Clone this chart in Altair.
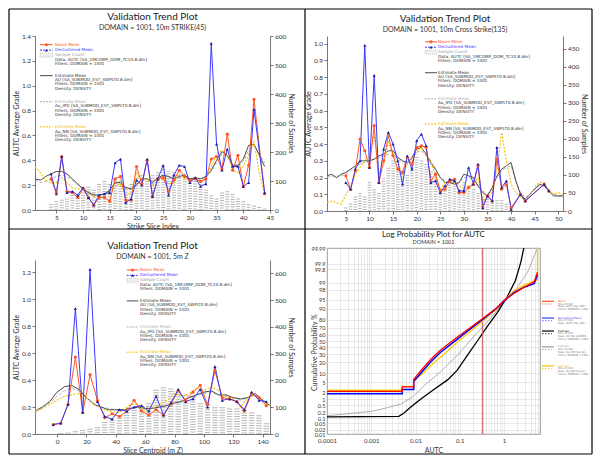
import altair as alt
import pandas as pd
from statistics import NormalDist

FONT = "Lato"
LEG_FONT = "DejaVu Sans"
INK = "#333333"
RED = "#ff5522"
BLUE = "#3a3aff"
NAVY = "#1e1e90"
EST_C = "#4a4a4a"
IPD_C = "#aaaaaa"
NN_C = "#f2c000"

# ---------------- 10m STRIKE(45) ----------------
strike_idx = [4, 5, 6, 7, 8, 9, 10, 11, 12, 13, 14, 15, 16, 17, 18, 19, 20, 21, 22, 23,
              24, 25, 26, 27, 28, 29, 30, 31, 32, 33, 34, 35, 36, 37, 38, 39, 40, 41, 42, 44]
strike_naive = [0.25, 0.14, 0.43, 0.15, 0.14, 0.10, 0.17, 0.10, 0.04, 0.10,
                0.10, 0.07, 0.25, 0.27, 0.08, 0.08, 0.35, 0.21, 0.40, 0.11,
                0.25, 0.26, 0.15, 0.24, 0.32, 0.27, 0.24, 0.25, 0.23, 0.25,
                0.41, 0.43, 0.33, 0.61, 0.32, 0.44, 0.19, 0.36, 0.89, 0.13]
strike_declus = [0.29, 0.13, 0.43, 0.14, 0.15, 0.12, 0.18, 0.10, 0.04, 0.12,
                 0.13, 0.14, 0.38, 0.41, 0.06, 0.09, 0.24, 0.20, 0.41, 0.11,
                 0.25, 0.36, 0.12, 0.28, 0.36, 0.35, 0.22, 0.26, 0.19, 0.21,
                 1.34, 0.53, 0.32, 0.49, 0.35, 0.35, 0.19, 0.22, 0.81, 0.14]
strike_count_idx = [4, 5, 6, 7, 8, 9, 10, 11, 12, 13, 14, 15, 16, 17, 18, 19, 20, 21, 22, 23, 24,
                    25, 26, 27, 28, 29, 30, 31, 32, 33, 34, 35, 36, 37, 38, 39, 40, 41, 42, 43, 44]
strike_count = [20, 30, 35, 40, 60, 50, 60, 80, 70, 90, 100, 90, 110, 100, 80, 90, 110, 120, 100, 120, 130,
                140, 135, 130, 120, 125, 110, 100, 90, 70, 50, 40, 60, 65, 55, 40, 30, 20, 15, 10, 5]
strike_est_idx = [1, 2, 3, 4, 5, 6, 7, 8, 9, 10, 11, 12, 13, 14, 15, 16, 17, 18, 19, 20, 21, 22,
                  23, 24, 25, 26, 27, 28, 29, 30, 31, 32, 33, 34, 35, 36, 37, 38, 39, 40, 41, 42, 43, 44]
strike_est = [0.25, 0.24, 0.27, 0.29, 0.31, 0.31, 0.29, 0.25, 0.21, 0.17,
              0.14, 0.12, 0.12, 0.13, 0.16, 0.22, 0.22, 0.18, 0.17, 0.20,
              0.25, 0.25, 0.22, 0.26, 0.28, 0.27, 0.25, 0.27, 0.28, 0.25,
              0.26, 0.25, 0.27, 0.32, 0.40, 0.47, 0.44, 0.36, 0.36, 0.41,
              0.52, 0.53, 0.44, 0.35]
strike_ipd = [0.24, 0.22, 0.23, 0.25, 0.27, 0.28, 0.27, 0.24, 0.20, 0.17,
              0.15, 0.13, 0.12, 0.13, 0.15, 0.19, 0.20, 0.17, 0.17, 0.21,
              0.24, 0.25, 0.23, 0.25, 0.27, 0.26, 0.25, 0.26, 0.27, 0.25,
              0.25, 0.24, 0.26, 0.31, 0.38, 0.45, 0.44, 0.37, 0.35, 0.39,
              0.48, 0.52, 0.45, 0.38]
strike_nn = [0.35, 0.30, 0.24, 0.22, 0.22, 0.26, 0.22, 0.18, 0.17, 0.16,
             0.13, 0.11, 0.11, 0.12, 0.15, 0.20, 0.21, 0.12, 0.14, 0.30,
             0.23, 0.25, 0.20, 0.24, 0.25, 0.21, 0.22, 0.29, 0.25, 0.24,
             0.25, 0.22, 0.25, 0.35, 0.45, 0.48, 0.45, 0.32, 0.30, 0.35,
             0.45, 0.55, 0.30, 0.12]

# ---------------- 10m Cross Strike(135) ----------------
cross_idx = [5, 6, 7, 8, 9, 10, 11, 12, 13, 14, 15, 16, 17, 18, 19, 20, 21, 22, 23, 24,
             25, 26, 27, 28, 29, 30, 31, 32, 33, 34, 35, 36, 37, 38, 39, 40, 42, 43, 47, 48]
cross_naive = [0.21, 0.13, 0.24, 0.43, 0.36, 0.26, 0.51, 0.17, 0.30, 0.45,
               0.33, 0.25, 0.23, 0.32, 0.28, 0.38, 0.39, 0.38, 0.18, 0.22,
               0.12, 0.13, 0.18, 0.19, 0.11, 0.11, 0.14, 0.16, 0.27, 0.03,
               0.09, 0.06, 0.31, 0.13, 0.16, 0.02, 0.10, 0.06, 0.16, 0.12]
cross_declus = [0.17, 0.13, 0.25, 0.30, 0.99, 0.26, 0.81, 0.17, 0.37, 0.47,
                0.40, 0.30, 0.16, 0.33, 0.25, 0.42, 0.46, 0.39, 0.17, 0.18,
                0.11, 0.15, 0.19, 0.18, 0.12, 0.12, 0.26, 0.16, 0.28, 0.02,
                0.09, 0.06, 0.38, 0.14, 0.18, 0.01, 0.10, 0.06, 0.16, 0.12]
cross_count_idx = [5, 6, 7, 8, 9, 10, 11, 12, 13, 14, 15, 16, 17, 18, 19, 20, 21, 22,
                   23, 24, 25, 26, 27, 28, 29, 30, 31, 32, 33, 34, 35, 36, 37, 38, 39, 40]
cross_count = [10, 20, 40, 50, 40, 80, 60, 50, 90, 120, 140, 130, 110, 100, 120, 150, 140, 130,
               110, 90, 60, 70, 80, 70, 60, 80, 70, 60, 50, 40, 40, 30, 30, 30, 20, 10]
cross_est_idx = [1, 2, 3, 4, 5, 6, 7, 8, 9, 10, 11, 12, 13, 14, 15, 16, 17, 18, 19, 20, 21, 22, 23, 24, 25, 26,
                 27, 28, 29, 30, 31, 32, 33, 34, 35, 36, 37, 38, 39, 40, 41, 42, 43, 44, 45, 46, 47, 48, 49, 50, 51]
cross_est = [0.21, 0.22, 0.20, 0.22, 0.23, 0.25, 0.27, 0.30, 0.30, 0.30,
             0.31, 0.33, 0.34, 0.36, 0.36, 0.32, 0.30, 0.29, 0.32, 0.37,
             0.38, 0.34, 0.29, 0.25, 0.20, 0.17, 0.17, 0.16, 0.17, 0.22,
             0.21, 0.20, 0.15, 0.11, 0.09, 0.14, 0.21, 0.25, 0.27, 0.29,
             0.18, 0.10, 0.07, 0.10, 0.13, 0.16, 0.15, 0.12, 0.09, 0.09, 0.09]
cross_ipd = [0.20, 0.21, 0.20, 0.21, 0.22, 0.24, 0.26, 0.28, 0.29, 0.30,
             0.31, 0.32, 0.33, 0.34, 0.34, 0.31, 0.29, 0.28, 0.31, 0.35,
             0.36, 0.33, 0.28, 0.24, 0.20, 0.18, 0.17, 0.17, 0.17, 0.20,
             0.20, 0.19, 0.15, 0.12, 0.10, 0.14, 0.20, 0.24, 0.26, 0.27,
             0.18, 0.11, 0.08, 0.10, 0.13, 0.15, 0.15, 0.12, 0.10, 0.09, 0.09]
cross_nn = [0.05, 0.06, 0.05, 0.04, 0.10, 0.14, 0.22, 0.26, 0.31, 0.32,
            0.46, 0.22, 0.28, 0.41, 0.34, 0.29, 0.22, 0.28, 0.30, 0.35,
            0.38, 0.33, 0.30, 0.20, 0.13, 0.17, 0.18, 0.17, 0.15, 0.13,
            0.15, 0.16, 0.20, 0.06, 0.08, 0.12, 0.25, 0.47, 0.30, 0.16,
            0.11, 0.09, 0.06, 0.10, 0.14, 0.17, 0.17, 0.12, 0.10, 0.11, 0.10]

# ---------------- 5m Z ----------------
z_cent = [-2.5, 2.5, 7.5, 12.5, 17.5, 22.5, 27.5, 32.5, 37.5, 42.5, 47.5, 52.5, 57.5, 62.5, 67.5,
          72.5, 77.5, 82.5, 87.5, 92.5, 97.5, 102.5, 107.5, 112.5, 117.5, 122.5, 127.5, 132.5, 137.5, 142.5]
z_naive = [0.07, 0.08, 0.22, 0.57, 0.16, 0.44, 0.25, 0.12, 0.15, 0.13,
           0.17, 0.25, 0.17, 0.14, 0.18, 0.14, 0.22, 0.32, 0.25, 0.31,
           0.36, 0.22, 0.47, 0.27, 0.26, 0.24, 0.17, 0.30, 0.27, 0.21]
z_declus = [0.07, 0.08, 0.22, 0.93, 0.16, 1.22, 0.24, 0.13, 0.11, 0.18,
            0.17, 0.20, 0.21, 0.17, 0.28, 0.14, 0.23, 0.33, 0.24, 0.26,
            0.33, 0.20, 0.50, 0.25, 0.26, 0.24, 0.18, 0.31, 0.25, 0.24]
z_count = [0, 3, 5, 10, 15, 20, 25, 45, 55, 70, 80, 90, 105, 115, 165,
           175, 170, 160, 145, 140, 115, 110, 100, 100, 95, 95, 90, 80, 70, 40]
z_est_x = [-15, -10, -5, 0, 5, 10, 15, 20, 25, 30, 35, 40, 45, 50, 55, 60, 65,
           70, 75, 80, 85, 90, 95, 100, 105, 110, 115, 120, 125, 130, 135, 140, 145]
z_est = [0.17, 0.20, 0.24, 0.31, 0.35, 0.36, 0.33, 0.27, 0.22, 0.20,
         0.18, 0.18, 0.18, 0.19, 0.20, 0.19, 0.19, 0.20, 0.21, 0.23,
         0.24, 0.27, 0.29, 0.31, 0.32, 0.29, 0.29, 0.27, 0.26, 0.27,
         0.30, 0.25, 0.21]
z_ipd = [0.16, 0.19, 0.23, 0.28, 0.32, 0.34, 0.32, 0.27, 0.23, 0.20,
         0.19, 0.18, 0.18, 0.19, 0.20, 0.20, 0.20, 0.21, 0.22, 0.24,
         0.25, 0.27, 0.29, 0.30, 0.31, 0.29, 0.28, 0.27, 0.25, 0.27,
         0.29, 0.25, 0.21]
z_nn = [0.17, 0.19, 0.22, 0.25, 0.28, 0.29, 0.30, 0.27, 0.22, 0.19,
        0.17, 0.16, 0.17, 0.22, 0.22, 0.17, 0.19, 0.22, 0.25, 0.30,
        0.28, 0.30, 0.34, 0.32, 0.35, 0.32, 0.28, 0.26, 0.20, 0.27,
        0.29, 0.24, 0.21]

# ---------------- log probability plot: AUTC vs cumulative % ----------------
lp_naive_x = [0.0001, 0.005, 0.005, 0.0091, 0.0091, 0.013, 0.022, 0.037, 0.087, 0.32, 0.65, 1.0, 1.7, 2.8, 4.8, 5.7]
lp_naive_p = [2.2, 2.2, 3.3, 3.3, 6.2, 11.5, 23, 36, 56, 81, 90, 94.8, 97.2, 98.4, 99.1, 99.7]
lp_declus_x = [0.0001, 0.005, 0.005, 0.0091, 0.0091, 0.013, 0.022, 0.037, 0.087, 0.147, 0.32, 0.65, 1.0, 1.7, 2.8, 4.8, 5.7]
lp_declus_p = [1.74, 1.74, 2.6, 2.6, 5.3, 9.7, 20, 32.6, 52.6, 65, 80, 90, 94.4, 97.4, 98.4, 98.9, 99.6]
lp_est_x = [0.0001, 0.0042, 0.0055, 0.0077, 0.013, 0.026, 0.053, 0.087, 0.147, 0.25, 0.42, 0.7, 1.17, 1.8, 2.4, 2.8]
lp_est_p = [0.12, 0.13, 0.2, 0.4, 1.0, 2.6, 6, 12, 28, 50, 72, 87, 96, 99.2, 99.92, 99.99]
lp_ipd_x = [0.0001, 0.0011, 0.0046, 0.0091, 0.015, 0.037, 0.087, 0.21, 0.5, 1.0, 2.0, 3.4, 5.7]
lp_ipd_p = [0.14, 0.25, 0.57, 1.4, 3.5, 11, 28, 57.6, 82, 94, 98.4, 99.7, 99.99]
lp_nn_x = [0.0001, 0.005, 0.005, 0.0091, 0.0091, 0.015, 0.027, 0.05, 0.087, 0.32, 0.65, 1.0, 1.7, 2.8, 4.8, 5.7, 5.7]
lp_nn_p = [2.45, 2.45, 3.5, 3.5, 5.8, 10, 20, 33, 48, 78, 89.5, 94.5, 97.8, 98.7, 99.2, 99.3, 99.99]
lp_mean_line = 0.33
prob_ticks = [0.01, 0.02, 0.05, 0.1, 0.2, 0.5, 1, 2, 5, 10, 20, 30, 40, 50, 60, 70, 80, 90,
              95, 98, 99, 99.8, 99.9, 99.99]
autc_decades = [0.0001, 0.001, 0.01, 0.1, 1]

ONE = pd.DataFrame({"k": [0]})
norm = NormalDist()


def zq(p):
    return norm.inv_cdf(p / 100.0)


def hrule(x1, x2, y, color, width=1.0, dash=None):
    kw = dict(color=color, strokeWidth=width)
    if dash:
        kw["strokeDash"] = dash
    return alt.Chart(ONE).mark_rule(**kw).encode(x=alt.value(x1), x2=alt.value(x2), y=alt.value(y))


def vrule(x, y1, y2, color, width=1.0):
    return alt.Chart(ONE).mark_rule(color=color, strokeWidth=width).encode(
        x=alt.value(x), y=alt.value(y1), y2=alt.value(y2))


def label(x, y, text, color, size, limit=None):
    kw = {}
    if limit:
        kw["limit"] = limit
    return alt.Chart(ONE).mark_text(text=text, align="left", baseline="middle", font=LEG_FONT,
                                    fontSize=size, color=color, **kw).encode(x=alt.value(x), y=alt.value(y))


def dot(x, y, color, shape):
    return alt.Chart(ONE).mark_point(shape=shape, filled=True, size=9, color=color, opacity=1).encode(
        x=alt.value(x), y=alt.value(y))


TREND_LEGEND = [
    (0.0, "Naive Mean", RED, "naive"),
    (5.6, "Declustered Mean", BLUE, "declus"),
    (10.8, "Sample Count", "#a0a0a0", "count"),
    (15.9, "Data: AUTC [SA_1MCOMP_DOM_TC10.8.dm]", INK, None),
    (20.2, "Filters: DOMAIN = 1001", INK, None),
    (32.0, "Estimate Mean", INK, "est"),
    (36.5, "AU [SA_SUBMOD_EST_SWPLT0.8.dm]", INK, None),
    (40.9, "Filters: DOMAIN = 1001", INK, None),
    (45.3, "Density: DENSITY", INK, None),
    (59.0, "Estimate Mean", "#b0b0b0", "ipd"),
    (63.8, "Au_IPD [SA_SUBMOD_EST_SWPLT0.8.dm]", INK, None),
    (68.2, "Filters: DOMAIN = 1001", INK, None),
    (72.6, "Density: DENSITY", INK, None),
    (85.0, "Estimate Mean", NN_C, "nn"),
    (89.9, "Au_NN [SA_SUBMOD_EST_SWPLT0.8.dm]", INK, None),
    (94.3, "Filters: DOMAIN = 1001", INK, None),
    (98.6, "Density: DENSITY", INK, None),
]


def trend_legend(xs, xe, xt, y0, k):
    out = []
    mid = (xs + xe) / 2
    for dy, text, col, sym in TREND_LEGEND:
        y = y0 + dy * k
        out.append(label(xt, y, text, col, 4.2))
        if sym == "naive":
            out += [hrule(xs, xe, y, RED), dot(mid, y, RED, "circle")]
        elif sym == "declus":
            out += [hrule(xs, xe, y, BLUE, dash=[2, 1]), dot(mid, y, NAVY, "triangle-up")]
        elif sym == "count":
            out.append(alt.Chart(ONE).mark_rect(fill="#f0f0f0", stroke="#b0b0b0", strokeWidth=0.6,
                                                strokeDash=[1, 1]).encode(
                x=alt.value(xs), x2=alt.value(xe), y=alt.value(y - 2), y2=alt.value(y + 2)))
        elif sym == "est":
            out.append(hrule(xs, xe, y, EST_C))
        elif sym == "ipd":
            out.append(hrule(xs, xe, y, IPD_C, dash=[2, 1]))
        elif sym == "nn":
            out.append(hrule(xs, xe, y, NN_C, dash=[2, 1]))
    return out


def trend_panel(subtitle, w, h, xdom, xticks, xtitle, gdom, gticks, cdom, cticks,
                idx, naive, declus, cidx, count, eidx, est, ipd, nn, bar_w, legend,
                yrange=None, title_offset=3, extra=()):
    rng = {} if yrange is None else {"range": yrange}
    xenc = alt.X("x:Q", scale=alt.Scale(domain=xdom, nice=False, zero=False),
                 axis=alt.Axis(values=xticks, title=xtitle, titlePadding=1))
    genc = alt.Y("v:Q", scale=alt.Scale(domain=gdom, nice=False, **rng),
                 axis=alt.Axis(orient="left", title="AUTC Average Grade", values=gticks, format=".1f"))
    bars = alt.Chart(pd.DataFrame({"x": cidx, "n": count})).mark_rule(
        strokeWidth=bar_w, strokeDash=[1, 1.5], color="#b8b8b8").encode(
        x=xenc,
        y=alt.Y("n:Q", scale=alt.Scale(domain=cdom, nice=False, **rng),
                axis=alt.Axis(orient="right", title="Number of Samples", values=cticks, format="d")),
        y2=alt.datum(0))

    def line(xs, ys, **kw):
        return alt.Chart(pd.DataFrame({"x": xs, "v": ys})).mark_line(**kw).encode(x=xenc, y=genc)

    def pts(xs, ys, color, shape):
        return alt.Chart(pd.DataFrame({"x": xs, "v": ys})).mark_point(
            filled=True, size=10, opacity=1, color=color, shape=shape).encode(x=xenc, y=genc)

    grade = alt.layer(
        line(eidx, ipd, color=IPD_C, strokeWidth=0.9, strokeDash=[3, 2]),
        line(eidx, est, color=EST_C, strokeWidth=1),
        line(eidx, nn, color=NN_C, strokeWidth=1.1, strokeDash=[2, 1.5]),
        line(idx, naive, color=RED, strokeWidth=1),
        line(idx, declus, color=BLUE, strokeWidth=1),
        pts(idx, naive, RED, "circle"),
        pts(idx, declus, NAVY, "triangle-up"),
    )
    return alt.layer(bars, grade, *trend_legend(*legend), *extra).resolve_scale(y="independent").properties(
        width=w, height=h,
        title=alt.TitleParams("Validation Trend Plot", subtitle=subtitle, fontSize=10,
                              subtitleFontSize=7, offset=title_offset, subtitlePadding=2))


# frame and dividers, drawn in the top-left panel's coordinates
FR_L, FR_R, FR_T, FR_B = -26, 557, -27, 418
frame = [
    hrule(FR_L, FR_R, FR_T, "#000000", 1.2), hrule(FR_L, FR_R, FR_B, "#000000", 1.2),
    vrule(FR_L, FR_T, FR_B, "#000000", 1.2), vrule(FR_R, FR_T, FR_B, "#000000", 1.2),
    vrule(270, FR_T, FR_B, "#000000", 1.2), hrule(FR_L, FR_R, 193, "#000000", 1.2),
]

k = 0.967
tl = trend_panel("DOMAIN = 1001, 10m STRIKE(45)", 235, 174, [1, 45], list(range(5, 46, 5)),
                 "Strike Slice Index", [0, 1.4], [0, 0.2, 0.4, 0.6, 0.8, 1.0, 1.2, 1.4],
                 [0, 600], [0, 100, 200, 300, 400, 500, 600],
                 strike_idx, strike_naive, strike_declus, strike_count_idx, strike_count,
                 strike_est_idx, strike_est, strike_ipd, strike_nn, 4,
                 (5, 17.7, 20, 9 * k, k), title_offset=-23, extra=frame)
tr = trend_panel("DOMAIN = 1001, 10m Cross Strike(135)", 236, 175, [1, 51], list(range(5, 51, 5)),
                 None, [0, 1.046], [0, 0.1, 0.2, 0.3, 0.4, 0.5, 0.6, 0.7, 0.8, 0.9, 1.0],
                 [0, 485], [0, 50, 100, 150, 200, 250, 300, 350, 400, 450],
                 cross_idx, cross_naive, cross_declus, cross_count_idx, cross_count,
                 cross_est_idx, cross_est, cross_ipd, cross_nn, 3.5,
                 (98, 110, 111, 6 * k, k), title_offset=3.5)
bl = trend_panel("DOMAIN = 1001, 5m Z", 235, 186, [-15, 145], [0, 20, 40, 60, 80, 100, 120, 140],
                 "Slice Centroid (m Z)", [0, 1.29], [0, 0.2, 0.4, 0.6, 0.8, 1.0, 1.2],
                 [0, 650], [0, 100, 200, 300, 400, 500, 600],
                 z_cent, z_naive, z_declus, z_cent, z_count,
                 z_est_x, z_est, z_ipd, z_nn, 5.5,
                 (91.7, 103.3, 105, 12 + 10.3 * k, k), yrange=[186, 12], title_offset=-12)

# ---------------- log probability panel ----------------
BW, BH = 213, 186
autc_grid = [round(m * 10.0 ** d, 6) for d in range(-4, 1) for m in range(1, 10) if m * 10.0 ** d <= 6.01]
xexpr = "indexof(%s, datum.value) >= 0 ? format(datum.value, '~g') : ''" % str(autc_decades)
yexpr = "''"
for p in reversed(prob_ticks):
    yexpr = "abs(datum.value - (%.6f)) < 0.0005 ? '%s' : (%s)" % (zq(p), "%g" % p, yexpr)

lx = alt.Scale(type="log", domain=[0.0001, 6.5], nice=False)
ly = alt.Scale(domain=[zq(0.01), zq(99.99)], nice=False)
lxaxis = alt.Axis(values=autc_grid, labelExpr=xexpr, grid=True, gridColor="#b8b8b8", gridDash=[1, 1],
                  gridWidth=0.6, tickSize=0, domain=False, title="AUTC", labelFontSize=6,
                  labelPadding=3, titlePadding=3, labelOverlap=False, labelFlush=False)
lyaxis = alt.Axis(values=[zq(p) for p in prob_ticks], labelExpr=yexpr, grid=True, gridColor="#b8b8b8",
                  gridDash=[1, 1], gridWidth=0.6, tickSize=0, domain=False,
                  title="Cumulative Probability %", titleX=-10, titleY=BH * 0.56, labelFontSize=5.5,
                  labelPadding=2, labelOverlap=False, labelFlush=False)


def curve(xv, pv, color, width, dash=None):
    df = pd.DataFrame({"x": xv, "z": [zq(p) for p in pv], "o": list(range(len(xv)))})
    kw = dict(color=color, strokeWidth=width, clip=True)
    if dash:
        kw["strokeDash"] = dash
    return alt.Chart(df).mark_line(**kw).encode(
        x=alt.X("x:Q", scale=lx, axis=lxaxis), y=alt.Y("z:Q", scale=ly, axis=lyaxis), order="o:Q")


BR_LEGEND = [
    (55.0, RED, ["Naive", "Bins: N 244", "Data: AUTC [SA_1MCOMP_DOM_TC10.8.dm]", "Filters: DOMAIN = 1001"]),
    (72.3, BLUE, ["Declustered Naive", "Bins: N 244", "Data: AUTC [SA_1MCOMP_DOM_TC10.8.dm]"]),
    (85.7, "#000000", ["Estimate", "Bins: N 244", "Data: AU [SA_SUBMOD_EST_SWPLT0.8.dm]",
                       "Filters: DOMAIN = 1001"]),
    (102.0, "#999999", ["Estimate", "Bins: N 244", "Data: Au_IPD [SA_SUBMOD_EST_SWPLT0.8.dm]",
                        "Filters: DOMAIN = 1001"]),
    (121.7, NN_C, ["Estimate", "Bins: N 244", "Data: Au_NN [SA_SUBMOD_EST_SWPLT0.8.dm]",
                   "Filters: DOMAIN = 1001"]),
]
br_leg = []
for y0, col, lines in BR_LEGEND:
    y0 = y0 * 0.969
    br_leg += [hrule(215, 227, y0, col, 1.2), hrule(215, 225, y0 + 2.7, col, 0.8, dash=[1.5, 1.5])]
    for i, t in enumerate(lines):
        br_leg.append(label(231, y0 + i * 2.7, t, col if i == 0 else "#777777", 2.6, limit=31))

mean_rule = alt.Chart(pd.DataFrame({"x": [lp_mean_line]})).mark_rule(color="#c0504d", strokeWidth=1).encode(
    x=alt.X("x:Q", scale=lx, axis=lxaxis))

br = alt.layer(
    curve(lp_ipd_x, lp_ipd_p, "#9a9a9a", 0.8),
    curve(lp_est_x, lp_est_p, "#000000", 1.3),
    mean_rule,
    curve(lp_nn_x, lp_nn_p, "#ffcc00", 1.3),
    curve(lp_declus_x, lp_declus_p, "#0000ff", 1.5),
    curve(lp_naive_x, lp_naive_p, "#ff0000", 1.3),
    *br_leg,
).properties(
    width=BW, height=BH,
    view=alt.ViewBackground(stroke="#808080", strokeWidth=0.8),
    title=alt.TitleParams("Log Probability Plot for AUTC", subtitle="DOMAIN = 1001", fontSize=8,
                          subtitleFontSize=5.5, offset=1, subtitlePadding=1))

chart = alt.concat(tl, tr, bl, br, columns=2, spacing={"row": 37, "column": 57}, bounds="flush").properties(
    padding=0
).configure_view(stroke=None).configure_axis(
    labelFont=FONT, titleFont=FONT, labelColor=INK, titleColor=INK, labelFontSize=6.5, titleFontSize=7,
    titleFontWeight="normal", domainColor="#555555", tickColor="#555555", tickSize=3, domainWidth=0.8,
    tickWidth=0.8, grid=False, labelPadding=1.5, titlePadding=2, labelFlush=False
).configure_title(
    font=FONT, subtitleFont=FONT, color="#222222", subtitleColor="#333333", fontWeight="normal",
    anchor="middle", frame="group"
)

chart.save("out.html", embed_options={"renderer": "svg", "actions": False})
